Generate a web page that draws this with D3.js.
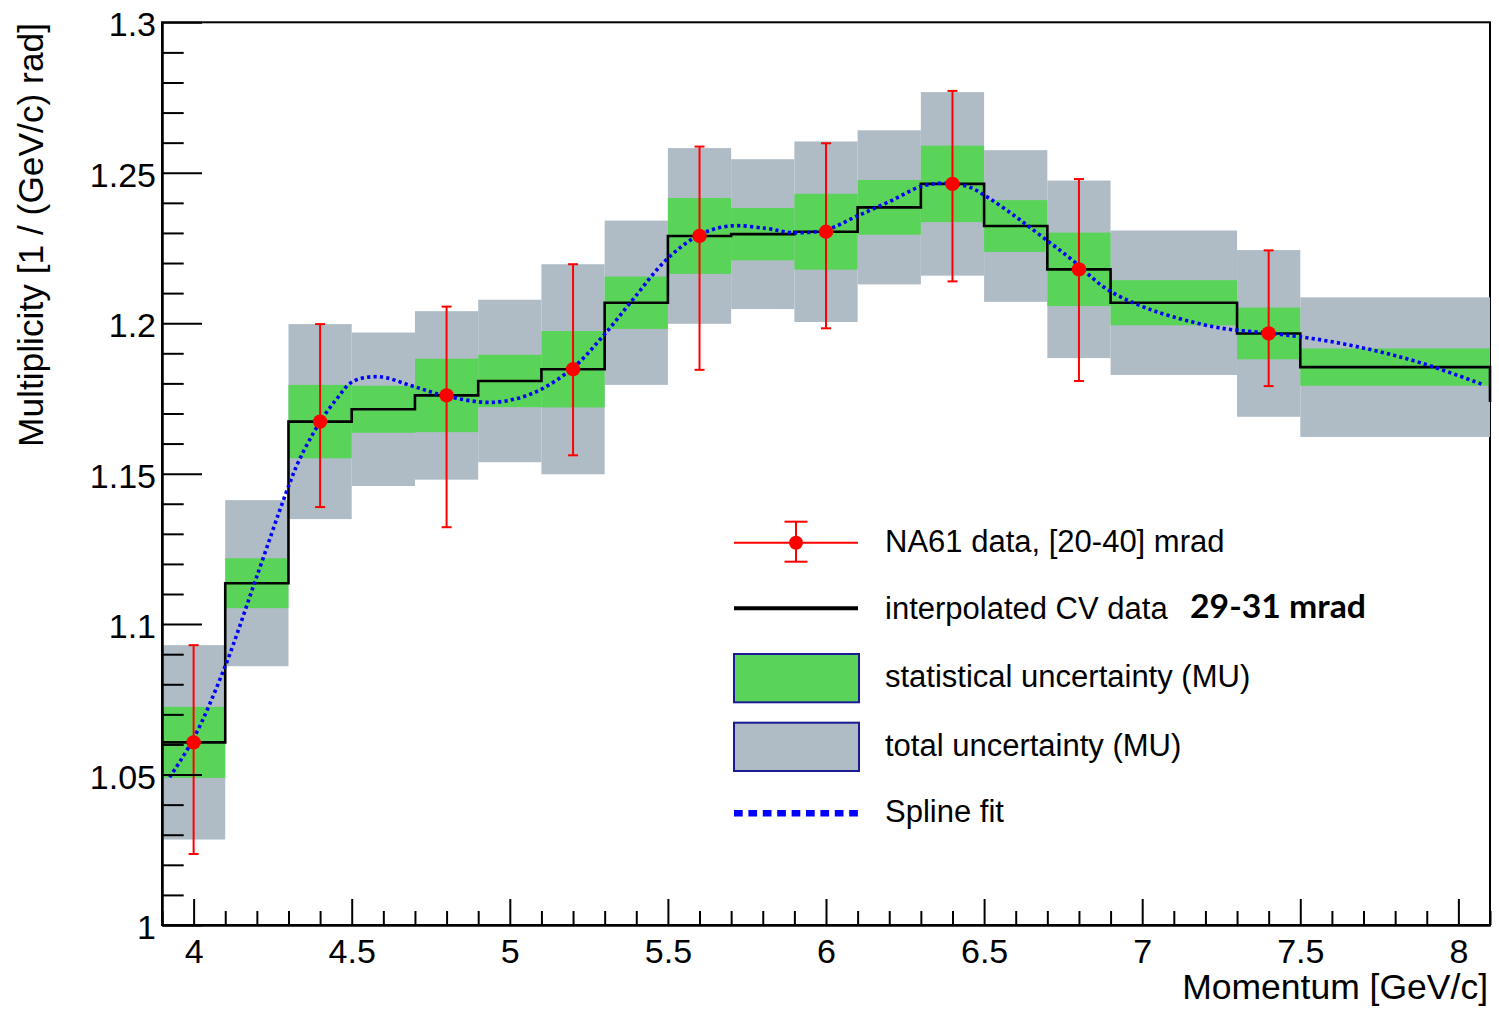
<!DOCTYPE html>
<html>
<head>
<meta charset="utf-8">
<script src="https://cdn.jsdelivr.net/npm/d3@7"></script>
<style>
  body { margin: 0; background: #ffffff; }
  svg { display: block; }
</style>
</head>
<body>
<svg id="chart" width="1499" height="1014"></svg>
<script>
// ---- Data -------------------------------------------------------------
// Momentum bin edges [GeV/c] for the interpolated CV histogram
const binEdges = [3.9, 4.1, 4.3, 4.5, 4.7, 4.9, 5.1, 5.3, 5.5, 5.7, 5.9, 6.1, 6.3, 6.5, 6.7, 6.9, 7.3, 7.5, 8.1];
// Interpolated CV multiplicity per bin (29-31 mrad)
const cvValues = [1.0607, 1.1136, 1.1673, 1.1714, 1.1760, 1.1808, 1.1847, 1.2068, 1.2290,
                  1.2296, 1.2304, 1.2385, 1.2463, 1.2323, 1.2179, 1.2068, 1.1966, 1.1854];
// value of the histogram just past the drawn range (last step drops to it)
const cvOverflow = 1.1738;
// Statistical uncertainty (half width) per bin
const statErr = [0.0118, 0.0083, 0.0122, 0.0078, 0.0122, 0.0087, 0.0127, 0.0087, 0.0126,
                 0.0087, 0.0126, 0.0091, 0.0127, 0.0086, 0.0122, 0.0075, 0.0086, 0.0062];
// Total uncertainty (half width) per bin
const totalErr = [0.0323, 0.0276, 0.0324, 0.0255, 0.0280, 0.0270, 0.0349, 0.0273, 0.0292,
                  0.0249, 0.0300, 0.0256, 0.0305, 0.0252, 0.0295, 0.0240, 0.0277, 0.0232];

// NA61 data points, [20-40] mrad
const naMomentum = [4.0, 4.4, 4.8, 5.2, 5.6, 6.0, 6.4, 6.8, 7.4];
const naValues   = [1.0607, 1.1673, 1.1760, 1.1847, 1.2290, 1.2304, 1.2463, 1.2179, 1.1966];
const naErrUp    = [0.0323, 0.0324, 0.0295, 0.0349, 0.0297, 0.0294, 0.0309, 0.0300, 0.0276];
const naErrDown  = [0.0371, 0.0284, 0.0438, 0.0286, 0.0445, 0.0321, 0.0324, 0.0371, 0.0175];

// Spline fit samples
const splineMomentum = [3.924, 4.000, 4.099, 4.197, 4.292, 4.334, 4.397, 4.450, 4.503, 4.587,
                        4.692, 4.798, 4.945, 5.072, 5.198, 5.293, 5.388, 5.494, 5.599, 5.694,
                        5.810, 5.894, 5.999, 6.094, 6.200, 6.305, 6.389, 6.452, 6.516, 6.600,
                        6.684, 6.779, 6.884, 6.990, 7.095, 7.253, 7.411, 7.569, 7.727, 7.885, 8.073];
const splineValues = [1.0491, 1.0620, 1.0858, 1.1150, 1.1435, 1.1545, 1.1667, 1.1745, 1.1806, 1.1822,
                      1.1791, 1.1758, 1.1737, 1.1767, 1.1850, 1.1955, 1.2077, 1.2210, 1.2293, 1.2323,
                      1.2315, 1.2301, 1.2310, 1.2354, 1.2404, 1.2456, 1.2465, 1.2453, 1.2415, 1.2354,
                      1.2287, 1.2210, 1.2116, 1.2060, 1.2022, 1.1983, 1.1966, 1.1944, 1.1911, 1.1867, 1.1798];

// Axis ticks
const xTickValues = [4, 4.5, 5, 5.5, 6, 6.5, 7, 7.5, 8];
const xTickLabels = ["4", "4.5", "5", "5.5", "6", "6.5", "7", "7.5", "8"];
const yTickValues = [1, 1.05, 1.1, 1.15, 1.2, 1.25, 1.3];
const yTickLabels = ["1", "1.05", "1.1", "1.15", "1.2", "1.25", "1.3"];

// ---- Layout / scales ---------------------------------------------------
const svg = d3.select("#chart");
const x = d3.scaleLinear().domain([3.9, 8.1]).range([162, 1490]);
const y = d3.scaleLinear().domain([1, 1.3]).range([925, 22.3]);

const GREEN = "#59d459";
const GREY = "#afbcc6";
const FONT = "'Liberation Sans', Arial, Helvetica, sans-serif";

const bins = cvValues.map((v, i) => ({
  lo: binEdges[i], hi: binEdges[i + 1], v, stat: statErr[i], tot: totalErr[i]
}));

// plot frame (drawn first so the bands sit over it)
svg.append("rect")
  .attr("x", x(3.9)).attr("y", y(1.3))
  .attr("width", x(8.1) - x(3.9)).attr("height", y(1) - y(1.3))
  .attr("fill", "none").attr("stroke", "#000").attr("stroke-width", 2);

// total uncertainty bands
svg.append("g").selectAll("rect").data(bins).join("rect")
  .attr("x", d => x(d.lo)).attr("width", d => x(d.hi) - x(d.lo))
  .attr("y", d => y(d.v + d.tot)).attr("height", d => y(d.v - d.tot) - y(d.v + d.tot))
  .attr("fill", GREY);

// statistical uncertainty bands
svg.append("g").selectAll("rect").data(bins).join("rect")
  .attr("x", d => x(d.lo)).attr("width", d => x(d.hi) - x(d.lo))
  .attr("y", d => y(d.v + d.stat)).attr("height", d => y(d.v - d.stat) - y(d.v + d.stat))
  .attr("fill", GREEN);

// interpolated CV histogram (step line)
const stepPts = bins.map(d => [d.lo, d.v]);
stepPts.push([binEdges[binEdges.length - 1], cvValues[cvValues.length - 1]]);
stepPts.push([binEdges[binEdges.length - 1], cvOverflow]);
svg.append("path")
  .attr("d", d3.line().x(d => x(d[0])).y(d => y(d[1])).curve(d3.curveStepAfter)(stepPts))
  .attr("fill", "none").attr("stroke", "#000").attr("stroke-width", 2.6);

// spline fit
const splinePts = splineMomentum.map((m, i) => [m, splineValues[i]]);
svg.append("path")
  .attr("d", d3.line().x(d => x(d[0])).y(d => y(d[1])).curve(d3.curveCatmullRom.alpha(0.5))(splinePts))
  .attr("fill", "none").attr("stroke", "#0000ff").attr("stroke-width", 3.6)
  .attr("stroke-dasharray", "3.2 3.2");

// NA61 data with error bars
const pts = naMomentum.map((m, i) => ({ m, v: naValues[i], up: naErrUp[i], dn: naErrDown[i] }));
const eg = svg.append("g").attr("stroke", "#ff0000").attr("stroke-width", 2);
eg.selectAll("line.v").data(pts).join("line").attr("class", "v")
  .attr("x1", d => x(d.m)).attr("x2", d => x(d.m))
  .attr("y1", d => y(d.v + d.up)).attr("y2", d => y(d.v - d.dn));
eg.selectAll("line.t").data(pts).join("line").attr("class", "t")
  .attr("x1", d => x(d.m) - 5).attr("x2", d => x(d.m) + 5)
  .attr("y1", d => y(d.v + d.up)).attr("y2", d => y(d.v + d.up));
eg.selectAll("line.b").data(pts).join("line").attr("class", "b")
  .attr("x1", d => x(d.m) - 5).attr("x2", d => x(d.m) + 5)
  .attr("y1", d => y(d.v - d.dn)).attr("y2", d => y(d.v - d.dn));
svg.append("g").selectAll("circle").data(pts).join("circle")
  .attr("cx", d => x(d.m)).attr("cy", d => y(d.v)).attr("r", 7.2)
  .attr("fill", "#ff0000");

// ---- Axes --------------------------------------------------------------
function styleAxis(g) {
  g.select(".domain").attr("stroke-width", 2);
  g.selectAll(".tick line").attr("stroke-width", 2);
  g.selectAll("text").attr("font-family", FONT).attr("font-size", 34).attr("fill", "#000");
}

const yMinor = d3.range(1, 1.3001, 0.01).filter(v => !yTickValues.some(t => Math.abs(t - v) < 1e-6));
svg.append("g").attr("transform", `translate(${x(3.9)},0)`)
  .call(d3.axisLeft(y).tickValues(yMinor).tickSize(-21.7).tickSizeOuter(0).tickFormat(""))
  .call(styleAxis);
svg.append("g").attr("transform", `translate(${x(3.9)},0)`)
  .call(d3.axisLeft(y).tickValues(yTickValues).tickSize(-40).tickSizeOuter(0).tickPadding(6)
        .tickFormat((d, i) => yTickLabels[i]))
  .call(styleAxis)
  .call(g => g.selectAll("text").attr("dy", "0.4em"));

const xMinor = d3.range(3.9, 8.1001, 0.1).filter(v => !xTickValues.some(t => Math.abs(t - v) < 1e-6));
svg.append("g").attr("transform", `translate(0,${y(1)})`)
  .call(d3.axisBottom(x).tickValues(xMinor).tickSize(-14).tickSizeOuter(0).tickFormat(""))
  .call(styleAxis);
svg.append("g").attr("transform", `translate(0,${y(1)})`)
  .call(d3.axisBottom(x).tickValues(xTickValues).tickSize(-26).tickSizeOuter(0).tickPadding(14)
        .tickFormat((d, i) => xTickLabels[i]))
  .call(styleAxis);

// axis titles
svg.append("text")
  .attr("x", 1488).attr("y", 999)
  .attr("text-anchor", "end")
  .attr("font-family", FONT).attr("font-size", 35.5)
  .text("Momentum [GeV/c]");
svg.append("text")
  .attr("transform", "translate(43,23) rotate(-90)")
  .attr("text-anchor", "end")
  .attr("font-family", FONT).attr("font-size", 34.5)
  .attr("textLength", 424).attr("lengthAdjust", "spacingAndGlyphs")
  .text("Multiplicity [1 / (GeV/c) rad]");

// ---- Legend ------------------------------------------------------------
const lg = svg.append("g");
const symL = 734, symR = 858, symC = (symL + symR) / 2, textX = 885;

// row 1: NA61 data
const r1 = 542.7;
lg.append("line").attr("x1", symL).attr("x2", symR).attr("y1", r1).attr("y2", r1)
  .attr("stroke", "#ff0000").attr("stroke-width", 2);
lg.append("line").attr("x1", symC).attr("x2", symC).attr("y1", r1 - 21).attr("y2", r1 + 19)
  .attr("stroke", "#ff0000").attr("stroke-width", 2);
[r1 - 21, r1 + 19].forEach(yy => lg.append("line")
  .attr("x1", symC - 11.5).attr("x2", symC + 11.5).attr("y1", yy).attr("y2", yy)
  .attr("stroke", "#ff0000").attr("stroke-width", 2));
lg.append("circle").attr("cx", symC).attr("cy", r1).attr("r", 7).attr("fill", "#ff0000");
lg.append("text").attr("x", textX).attr("y", 552).attr("font-family", FONT).attr("font-size", 31)
  .text("NA61 data, [20-40] mrad");

// row 2: interpolated CV line
const r2 = 608.3;
lg.append("line").attr("x1", symL).attr("x2", symR).attr("y1", r2).attr("y2", r2)
  .attr("stroke", "#000").attr("stroke-width", 4);
lg.append("text").attr("x", textX).attr("y", 618.5).attr("font-family", FONT).attr("font-size", 31)
  .text("interpolated CV data");
lg.append("text").attr("x", 1190).attr("y", 617.5)
  .attr("font-family", "Lato, 'Open Sans', sans-serif").attr("font-weight", "bold").attr("font-size", 33)
  .attr("textLength", 176).attr("lengthAdjust", "spacingAndGlyphs")
  .text("29-31 mrad");

// rows 3-4: uncertainty boxes
lg.append("rect").attr("x", symL).attr("y", 654).attr("width", 125).attr("height", 48.3)
  .attr("fill", GREEN).attr("stroke", "#1a1a96").attr("stroke-width", 2);
lg.append("text").attr("x", textX).attr("y", 687).attr("font-family", FONT).attr("font-size", 31)
  .text("statistical uncertainty (MU)");
lg.append("rect").attr("x", symL).attr("y", 722.7).attr("width", 125).attr("height", 48.3)
  .attr("fill", GREY).attr("stroke", "#1a1a96").attr("stroke-width", 2);
lg.append("text").attr("x", textX).attr("y", 756).attr("font-family", FONT).attr("font-size", 31)
  .text("total uncertainty (MU)");

// row 5: spline fit
const r5 = 813.3;
lg.append("line").attr("x1", symL).attr("x2", symR).attr("y1", r5).attr("y2", r5)
  .attr("stroke", "#0000ff").attr("stroke-width", 6.5).attr("stroke-dasharray", "8.7 5.7");
lg.append("text").attr("x", textX).attr("y", 822).attr("font-family", FONT).attr("font-size", 31)
  .text("Spline fit");
</script>
</body>
</html>
